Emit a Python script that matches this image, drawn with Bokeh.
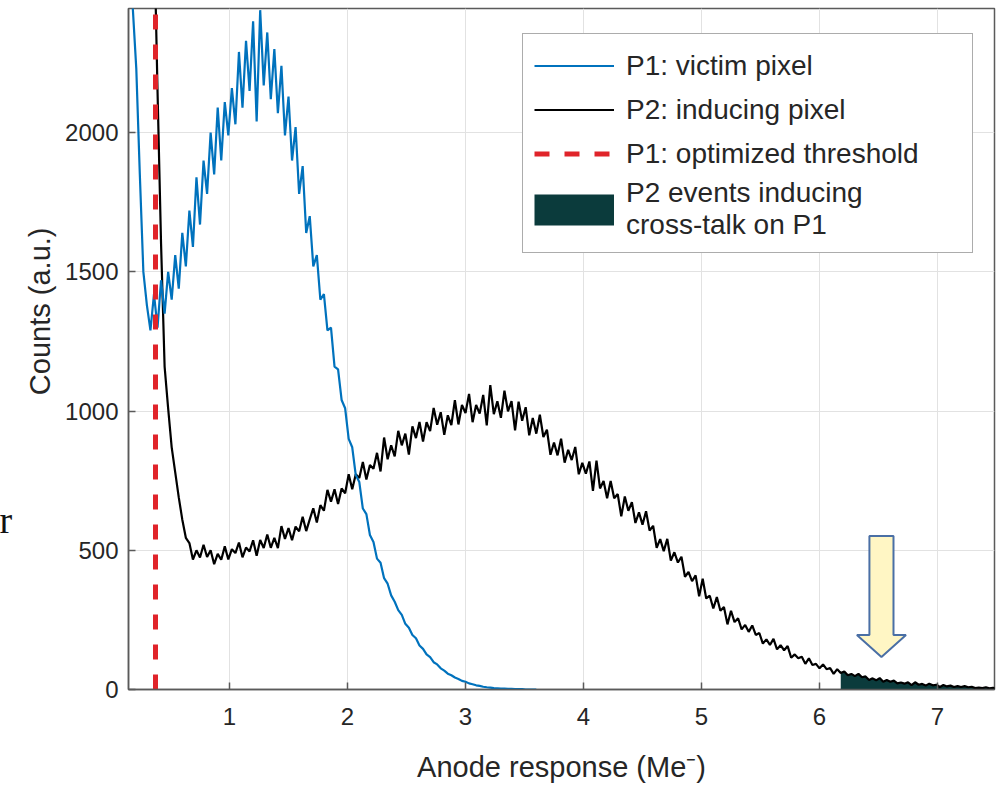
import numpy as np
from bokeh.plotting import figure
from bokeh.models import Range1d, FixedTicker, Legend, LegendItem, Label, Title
from bokeh.embed import file_html
from bokeh.resources import INLINE

# ---------------- data ----------------
P1_START = 0.15
P1_STEP = 0.03
P1_COUNTS = [
    2700, 2450, 2230, 1850, 1500, 1380, 1290, 1420, 1300, 1470,
    1350, 1500, 1400, 1560, 1440, 1640, 1520, 1720, 1590, 1840,
    1670, 1900, 1780, 2000, 1850, 2090, 1900, 2110, 1990, 2160,
    2030, 2290, 2090, 2330, 2150, 2400, 2040, 2440, 2170, 2360,
    2120, 2300, 2070, 2240, 1990, 2130, 1900, 2020, 1780, 1880,
    1640, 1700, 1520, 1560, 1400, 1420, 1290, 1300, 1160, 1150,
    1040, 1010, 900, 870, 770, 745, 650, 630, 555, 530,
    470, 455, 400, 380, 338, 315, 285, 268, 236, 222,
    196, 184, 158, 146, 126, 116, 98, 90, 76, 68,
    57, 51, 43, 38, 31, 28, 22, 19, 15, 13,
    10, 8, 7, 5, 4, 3, 3, 2, 2, 1,
    1, 1, 0, 0, 0, 0,
]

P2_START = 0.36
P2_STEP = 0.03
P2_COUNTS = [
    2750, 2150, 1600, 1160, 1010, 870, 780, 690, 610, 545,
    526, 467, 500, 474, 520, 476, 500, 450, 487, 466,
    514, 467, 504, 490, 528, 475, 510, 496, 536, 480,
    537, 508, 557, 509, 545, 508, 587, 541, 580, 536,
    585, 568, 620, 569, 611, 651, 600, 662, 642, 717,
    675, 719, 666, 722, 705, 773, 719, 773, 760, 817,
    754, 806, 793, 850, 783, 905, 827, 877, 837, 929,
    877, 919, 844, 945, 903, 961, 891, 960, 928, 1011,
    951, 996, 915, 985, 950, 1039, 952, 1022, 993, 1062,
    960, 1022, 991, 1058, 949, 1093, 989, 1035, 976, 1073,
    999, 1036, 931, 1034, 965, 1014, 913, 975, 919, 987,
    907, 933, 843, 887, 841, 901, 815, 861, 824, 871,
    773, 814, 775, 819, 713, 822, 722, 749, 687, 749,
    687, 702, 622, 693, 642, 673, 598, 636, 592, 640,
    571, 588, 509, 540, 497, 541, 463, 493, 456, 477,
    405, 422, 389, 410, 335, 398, 327, 337, 291, 332,
    283, 296, 234, 283, 242, 256, 216, 232, 207, 230,
    196, 203, 165, 180, 160, 182, 144, 159, 141, 156,
    114, 126, 112, 118, 92, 112, 88, 92, 76, 90,
    73, 77, 56, 73, 59, 65, 51, 56, 48, 56,
    44, 47, 34, 40, 33, 41, 28, 34, 28, 32,
    22, 25, 21, 26, 16, 26, 17, 20, 14, 21,
    15, 17, 9, 16, 11, 14, 9, 12, 9, 12,
    8, 10, 5, 7, 5, 8, 4, 6, 4,
]

THRESHOLD = 0.373          # P1 optimized threshold (Me-)
SHADE_START = 6.18         # P2 events inducing cross-talk start here

X_TICKS = [1, 2, 3, 4, 5, 6, 7]
Y_TICKS = [0, 500, 1000, 1500, 2000]
X_MIN, X_MAX = 0.144, 7.483
Y_MIN, Y_MAX = 0, 2446

# block arrow annotation (data units)
ARROW_X = 6.525
ARROW_TOP = 551
ARROW_NECK = 196
ARROW_TIP = 117
ARROW_SHAFT_HALF = 0.102
ARROW_HEAD_HALF = 0.208

LABELS = ["P1: victim pixel", "P2: inducing pixel", "P1: optimized threshold",
          "P2 events inducing\ncross-talk on P1"]

# ---------------- styles ----------------
FONT = "Liberation Sans"
TXT = "#262626"
AXC = "#5a5a5a"
BLUE = "#0072BD"
RED = "#e0242a"
TEAL = "#0b3b3c"

x1 = P1_START + P1_STEP * np.arange(len(P1_COUNTS))
y1 = np.array(P1_COUNTS, dtype=float)
x2 = P2_START + P2_STEP * np.arange(len(P2_COUNTS))
y2 = np.array(P2_COUNTS, dtype=float)

p = figure(width=1001, height=786,
           x_range=Range1d(X_MIN, X_MAX), y_range=Range1d(Y_MIN, Y_MAX),
           output_backend="svg", toolbar_location=None,
           min_border_left=128, min_border_right=7, min_border_top=8, min_border_bottom=97)
p.background_fill_color = "white"
p.border_fill_color = "white"
p.outline_line_color = AXC
p.outline_line_width = 1.5

# grids
p.xgrid.grid_line_color = "#e2e2e2"
p.ygrid.grid_line_color = "#e2e2e2"
p.xgrid.ticker = FixedTicker(ticks=X_TICKS)
p.ygrid.ticker = FixedTicker(ticks=Y_TICKS)

# axes
p.xaxis.ticker = FixedTicker(ticks=X_TICKS)
p.yaxis.ticker = FixedTicker(ticks=Y_TICKS)
for ax in (p.xaxis[0], p.yaxis[0]):
    ax.major_label_text_font = FONT
    ax.major_label_text_font_size = "24px"
    ax.major_label_text_color = TXT
    ax.axis_line_color = AXC
    ax.axis_line_width = 1.5
    ax.major_tick_line_color = AXC
    ax.major_tick_line_width = 1.5
    ax.major_tick_in = 7
    ax.major_tick_out = 0
    ax.minor_tick_line_color = None
p.xaxis.major_label_standoff = 18
p.yaxis.major_label_standoff = 10
p.xaxis.axis_label = "Anode response (Me\u207b)"
p.xaxis.axis_label_text_font = FONT
p.xaxis.axis_label_text_font_size = "29px"
p.xaxis.axis_label_text_font_style = "normal"
p.xaxis.axis_label_text_color = TXT
p.xaxis.axis_label_standoff = 23

# y label as a left-side title, so it can sit slightly above centre like the original
ytitle = Title(text="Counts (a.u.)", align="right", offset=219, vertical_align="top",
               text_font=FONT, text_font_size="29px", text_font_style="normal",
               text_color=TXT, standoff=10)
p.add_layout(ytitle, "left")

# shaded region under P2
mask = x2 >= SHADE_START - 1e-9
p.varea(x=x2[mask], y1=np.zeros(mask.sum()), y2=y2[mask], fill_color=TEAL)

r2 = p.line(x2, y2, line_color="black", line_width=2.2)
r1 = p.line(x1, y1, line_color=BLUE, line_width=2.2)
r_thr = p.line([THRESHOLD, THRESHOLD], [Y_MIN, Y_MAX], line_color=RED, line_width=5,
               line_dash="15 15")
# legend key for the shaded region (kept outside the visible x range)
r_key = p.line(x=[X_MAX + 1, X_MAX + 2], y=[Y_MIN, Y_MIN], line_color=TEAL, line_width=31)

# block arrow
ax_pts = [ARROW_X - ARROW_SHAFT_HALF, ARROW_X + ARROW_SHAFT_HALF, ARROW_X + ARROW_SHAFT_HALF,
          ARROW_X + ARROW_HEAD_HALF, ARROW_X, ARROW_X - ARROW_HEAD_HALF, ARROW_X - ARROW_SHAFT_HALF]
ay_pts = [ARROW_TOP, ARROW_TOP, ARROW_NECK, ARROW_NECK, ARROW_TIP, ARROW_NECK, ARROW_NECK]
p.patch(ax_pts, ay_pts, fill_color="#fff6c4", line_color="#4a6fa5", line_width=2)

# letter at the left edge of the original image
p.add_layout(Label(x=-6, y=170, x_units="screen", y_units="screen", text="r",
                   text_align="left", text_baseline="alphabetic",
                   text_font="Liberation Serif", text_font_size="38px", text_color="#111111"),
             "left")

legend = Legend(items=[
    LegendItem(label=LABELS[0], renderers=[r1]),
    LegendItem(label=LABELS[1], renderers=[r2]),
    LegendItem(label=LABELS[2], renderers=[r_thr]),
    LegendItem(label=LABELS[3], renderers=[r_key]),
], location=(394, 436))
legend.label_text_font = FONT
legend.label_text_font_size = "28px"
legend.label_text_color = TXT
legend.glyph_width = 80
legend.glyph_height = 41
legend.label_height = 41
legend.label_width = 335
legend.label_standoff = 12
legend.padding = 11
legend.spacing = 3
legend.margin = 0
legend.border_line_color = AXC
legend.border_line_width = 1.5
legend.background_fill_color = "white"
legend.background_fill_alpha = 1.0
p.add_layout(legend)

open("out.html", "w").write(file_html(p, INLINE))
